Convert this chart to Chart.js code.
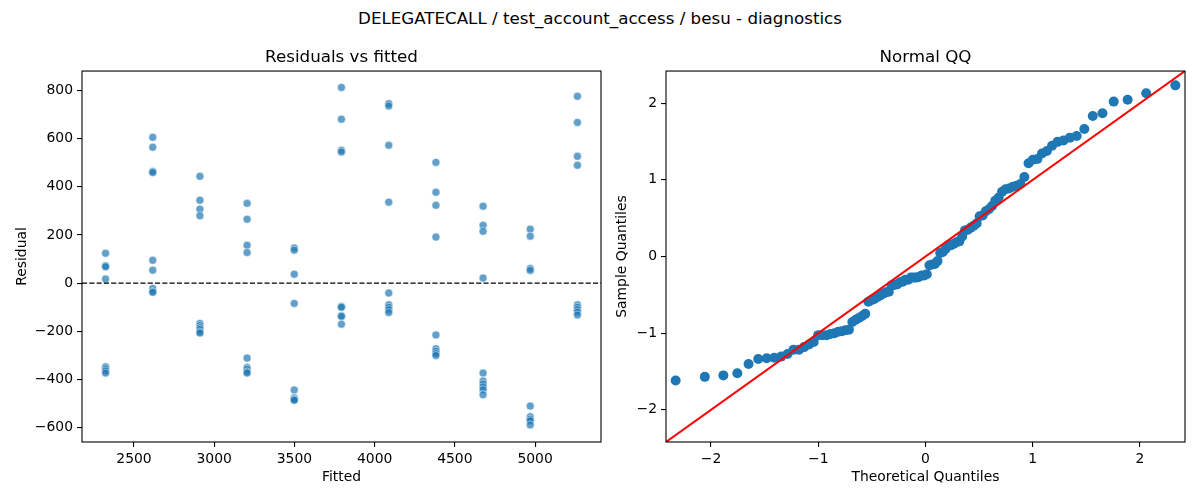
<!DOCTYPE html>
<html lang="en">
<head>
<meta charset="UTF-8">
<title>DELEGATECALL / test_account_access / besu - diagnostics</title>
<script src="https://cdn.jsdelivr.net/npm/chart.js@4"></script>
<style>
  html, body { margin: 0; padding: 0; background: #fff; }
  body { width: 1200px; height: 500px; position: relative; overflow: hidden; font-family: 'DejaVu Sans', sans-serif; }
  .suptitle { position: absolute; left: 0; top: 0; width: 1200px; text-align: center; font-size: 16.7px; line-height: 36px; color: #000; }
  .panel { position: absolute; top: 40px; height: 460px; }
  #left { left: 0; width: 610px; }
  #right { left: 610px; width: 590px; }
</style>
</head>
<body>
<div class="suptitle">DELEGATECALL / test_account_access / besu - diagnostics</div>
<div class="panel" id="left"><canvas id="residChart"></canvas></div>
<div class="panel" id="right"><canvas id="qqChart"></canvas></div>

<script>
// residuals vs fitted: one fitted value per group, residuals
const fittedLevels = [2323, 2617, 2911, 3205, 3499, 3793, 4088, 4382, 4676, 4970, 5264];
const residualsByLevel = [
  [124, 72, 68, 17, -347, -355, -364, -373],
  [605, 564, 463, 459, 95, 54, -22, -35, -38],
  [443, 344, 307, 280, -167, -176, -185, -192, -202, -207],
  [331, 265, 157, 127, -311, -350, -357, -368, -373],
  [146, 137, 37, -84, -443, -475, -480, -483, -486],
  [812, 680, 551, 544, -97, -100, -135, -138, -170],
  [744, 735, 572, 336, -41, -90, -100, -110, -122],
  [501, 377, 323, 191, -215, -272, -282, -292, -300],
  [319, 240, 215, 21, -373, -406, -418, -430, -442, -463],
  [224, 195, 61, 53, -510, -554, -564, -571, -588],
  [775, 667, 526, 489, -90, -100, -110, -120, -132]
];
const residXTicks = [2500, 3000, 3500, 4000, 4500, 5000];
const residYTicks = [-600, -400, -200, 0, 200, 400, 600, 800];

// normal QQ
const theoQuantiles = [
  -2.330, -2.058, -1.885, -1.755, -1.650, -1.560, -1.481, -1.410, -1.346, -1.287,
  -1.232, -1.180, -1.132, -1.086, -1.043, -1.001, -0.961, -0.922, -0.885, -0.849,
  -0.814, -0.780, -0.746, -0.714, -0.682, -0.651, -0.621, -0.591, -0.562, -0.533,
  -0.505, -0.477, -0.449, -0.422, -0.395, -0.368, -0.342, -0.316, -0.290, -0.264,
  -0.239, -0.213, -0.188, -0.162, -0.137, -0.112, -0.087, -0.062, -0.037, -0.012,
  0.012, 0.037, 0.062, 0.087, 0.112, 0.137, 0.162, 0.188, 0.213, 0.239,
  0.264, 0.290, 0.316, 0.342, 0.368, 0.395, 0.422, 0.449, 0.477, 0.505,
  0.533, 0.562, 0.591, 0.621, 0.651, 0.682, 0.714, 0.746, 0.780, 0.814,
  0.849, 0.885, 0.922, 0.961, 1.001, 1.043, 1.086, 1.132, 1.180, 1.232,
  1.287, 1.346, 1.410, 1.481, 1.560, 1.650, 1.755, 1.885, 2.058, 2.330
];
const sampleQuantiles = [
  -1.617, -1.570, -1.551, -1.523, -1.402, -1.336, -1.328, -1.320, -1.306, -1.273,
  -1.218, -1.215, -1.182, -1.149, -1.116, -1.026, -1.026, -1.026, -1.012, -1.001,
  -0.982, -0.976, -0.962, -0.954, -0.855, -0.825, -0.803, -0.775, -0.748, -0.591,
  -0.569, -0.555, -0.528, -0.509, -0.484, -0.467, -0.459, -0.379, -0.371, -0.363,
  -0.335, -0.330, -0.302, -0.302, -0.275, -0.275, -0.275, -0.267, -0.247, -0.247,
  -0.231, -0.113, -0.104, -0.096, -0.060, 0.047, 0.058, 0.102, 0.146, 0.148,
  0.168, 0.187, 0.198, 0.261, 0.341, 0.349, 0.377, 0.401, 0.432, 0.525,
  0.536, 0.591, 0.616, 0.660, 0.729, 0.770, 0.844, 0.877, 0.888, 0.910,
  0.924, 0.946, 1.037, 1.218, 1.262, 1.273, 1.345, 1.377, 1.446, 1.496,
  1.515, 1.551, 1.573, 1.663, 1.834, 1.870, 2.021, 2.046, 2.131, 2.233
];
const qqTicks = [-2, -1, 0, 1, 2];
const qqLimit = 2.42;

Chart.defaults.font.family = "'DejaVu Sans', sans-serif";
Chart.defaults.color = '#000';

const minus = v => (v < 0 ? '\u2212' + Math.abs(v) : String(v));

// full box around the plot area, like matplotlib spines
const frame = {
  id: 'frame',
  afterDatasetsDraw(chart) {
    const { ctx, chartArea: a } = chart;
    ctx.save();
    ctx.strokeStyle = '#000';
    ctx.lineWidth = 1.1;
    ctx.strokeRect(a.left, a.top, a.right - a.left, a.bottom - a.top);
    ctx.restore();
  }
};

function makeAxis(min, max, ticks, title, size, titlePad) {
  return {
    type: 'linear',
    min: min,
    max: max,
    afterBuildTicks: s => { s.ticks = ticks.map(v => ({ value: v })); },
    afterFit: s => {
      if (s.isHorizontal()) s.height = size; else s.width = size;
    },
    grid: { display: true, drawOnChartArea: false, drawTicks: true, tickLength: 5, color: '#000', lineWidth: 1.1 },
    border: { display: false },
    ticks: { autoSkip: false, maxRotation: 0, padding: 4, font: { size: 13.9 }, color: '#000', callback: v => minus(v) },
    title: { display: true, text: title, color: '#000', font: { size: 13.9 }, padding: titlePad }
  };
}

function baseOptions(titleText, padRight) {
  return {
    responsive: true,
    maintainAspectRatio: false,
    animation: false,
    events: [],
    layout: { padding: { left: 0, right: padRight, top: 0, bottom: 0 } },
    plugins: {
      legend: { display: false },
      tooltip: { enabled: false },
      title: {
        display: true, text: titleText, color: '#000', fullSize: false,
        font: { size: 16.7, weight: 'normal' }, padding: { top: 8, bottom: 3 }
      }
    }
  };
}

// left panel
const residPoints = [];
fittedLevels.forEach((f, i) => {
  residualsByLevel[i].forEach(r => residPoints.push({ x: f, y: r }));
});
const residXMin = 2176, residXMax = 5411;

const leftOpts = baseOptions('Residuals vs fitted', 9);
leftOpts.scales = {
  x: makeAxis(residXMin, residXMax, residXTicks, 'Fitted', 58, { top: 2, bottom: 14.7 }),
  y: makeAxis(-659, 880, residYTicks, 'Residual', 82, { top: 13.7, bottom: 2 })
};

new Chart(document.getElementById('residChart'), {
  type: 'scatter',
  data: {
    datasets: [
      {
        data: [{ x: residXMin, y: 0 }, { x: residXMax, y: 0 }],
        showLine: true, pointRadius: 0, borderColor: '#000', borderWidth: 1.4, borderDash: [5.1, 2.2]
      },
      {
        data: residPoints,
        pointRadius: 4, borderWidth: 0.7,
        backgroundColor: 'rgba(31,119,180,0.7)', borderColor: 'rgba(255,255,255,0.7)'
      }
    ]
  },
  options: leftOpts,
  plugins: [frame]
});

// right panel
const qqPoints = theoQuantiles.map((t, i) => ({ x: t, y: sampleQuantiles[i] }));

const rightOpts = baseOptions('Normal QQ', 15);
rightOpts.scales = {
  x: makeAxis(-qqLimit, qqLimit, qqTicks, 'Theoretical Quantiles', 58, { top: 2, bottom: 14.7 }),
  y: makeAxis(-qqLimit, qqLimit, qqTicks, 'Sample Quantiles', 56, { top: 3.7, bottom: 2 })
};

new Chart(document.getElementById('qqChart'), {
  type: 'scatter',
  data: {
    datasets: [
      {
        data: [{ x: -qqLimit, y: -qqLimit }, { x: qqLimit, y: qqLimit }],
        showLine: true, pointRadius: 0, borderColor: '#ff0000', borderWidth: 2
      },
      {
        data: qqPoints,
        pointRadius: 5, borderWidth: 0,
        backgroundColor: '#1f77b4'
      }
    ]
  },
  options: rightOpts,
  plugins: [frame]
});
</script>
</body>
</html>
